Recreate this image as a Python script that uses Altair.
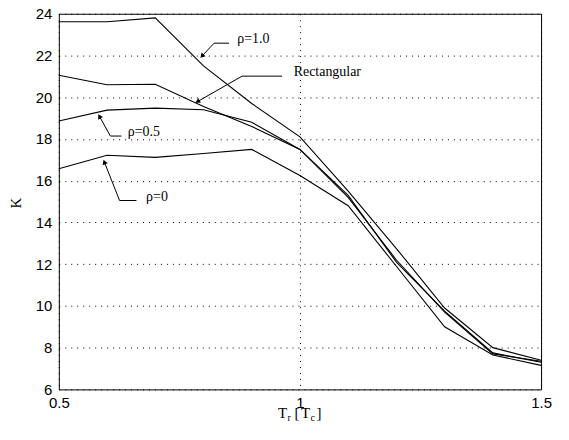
import math
import altair as alt
import pandas as pd

# ---- data ----
x_vals = [0.5, 0.6, 0.7, 0.8, 0.9, 1.0, 1.1, 1.2, 1.3, 1.4, 1.5]
k_rho10 = [23.62, 23.62, 23.80, 21.50, 19.70, 18.10, 15.50, 12.75, 9.90, 8.00, 7.40]
k_rect = [21.05, 20.60, 20.62, 19.55, 18.60, 17.50, 15.20, 12.20, 9.70, 7.70, 7.35]
k_rho05 = [18.86, 19.38, 19.48, 19.40, 18.80, 17.50, 15.30, 12.10, 9.75, 7.75, 7.30]
k_rho0 = [16.57, 17.22, 17.12, 17.30, 17.50, 16.25, 14.80, 11.90, 9.00, 7.65, 7.15]
series_names = ["rho=1.0", "Rectangular", "rho=0.5", "rho=0"]

x_ticks = [0.5, 1.0, 1.5]
y_ticks = [6, 8, 10, 12, 14, 16, 18, 20, 22, 24]

# annotations (arrow tip, elbow, end of horizontal leader, label)
ann_labels = ["ρ=1.0", "Rectangular", "ρ=0.5", "ρ=0"]
tip_x = [0.798, 0.789, 0.585, 0.595]
tip_y = [22.00, 19.81, 19.05, 16.86]
elbow_x = [0.822, 0.880, 0.607, 0.626]
elbow_y = [22.59, 21.01, 18.14, 15.05]
end_x = [0.853, 0.963, 0.630, 0.661]
text_x = [0.870, 0.987, 0.643, 0.681]

W, H = 484, 377
X_DOM = [0.5, 1.5]
Y_DOM = [6, 24]

rows = []
for name, vals in zip(series_names, [k_rho10, k_rect, k_rho05, k_rho0]):
    for xv, kv in zip(x_vals, vals):
        rows.append({"series": name, "x": xv, "k": kv})
df = pd.DataFrame(rows)

lead_rows = []
head_rows = []
text_rows = []
for i, lab in enumerate(ann_labels):
    lead_rows.append({"lab": lab, "o": 0, "x": tip_x[i], "k": tip_y[i]})
    lead_rows.append({"lab": lab, "o": 1, "x": elbow_x[i], "k": elbow_y[i]})
    lead_rows.append({"lab": lab, "o": 2, "x": end_x[i], "k": elbow_y[i]})
    dx = (tip_x[i] - elbow_x[i]) * W / (X_DOM[1] - X_DOM[0])
    dy = -(tip_y[i] - elbow_y[i]) * H / (Y_DOM[1] - Y_DOM[0])
    ang = math.degrees(math.atan2(dx, -dy)) % 360
    head_rows.append({"lab": lab, "x": tip_x[i], "k": tip_y[i], "ang": ang})
    text_rows.append({"lab": lab, "x": text_x[i], "k": elbow_y[i]})
lead_df = pd.DataFrame(lead_rows)
head_df = pd.DataFrame(head_rows)
text_df = pd.DataFrame(text_rows)

xs = alt.Scale(domain=X_DOM, nice=False)
ys = alt.Scale(domain=Y_DOM, nice=False, zero=False)

x_axis = alt.Axis(values=x_ticks, format="~g", title=None, grid=True, ticks=False,
                  domain=False, labelFont="Liberation Sans", labelFontSize=15,
                  labelColor="black", labelPadding=6, gridColor="black",
                  gridDash=[1, 5], gridWidth=1, gridOpacity=1, labelFlush=False)
y_axis = alt.Axis(values=y_ticks, title=None, grid=True, ticks=False, domain=False,
                  labelFont="Liberation Sans", labelFontSize=15, labelColor="black",
                  labelPadding=7, gridColor="black", gridDash=[1, 5], gridWidth=1,
                  gridOpacity=1, labelFlush=False)

lines = alt.Chart(df).mark_line(color="black", strokeWidth=1.1).encode(
    x=alt.X("x:Q", scale=xs, axis=x_axis),
    y=alt.Y("k:Q", scale=ys, axis=y_axis),
    detail="series:N",
)

leaders = alt.Chart(lead_df).mark_line(color="black", strokeWidth=1).encode(
    x=alt.X("x:Q", scale=xs),
    y=alt.Y("k:Q", scale=ys),
    detail="lab:N",
    order="o:Q",
)

heads = alt.Chart(head_df).mark_point(shape="triangle", filled=True, color="black",
                                      size=30, opacity=1).encode(
    x=alt.X("x:Q", scale=xs),
    y=alt.Y("k:Q", scale=ys),
    angle=alt.Angle("ang:Q", scale=None),
)

labels = alt.Chart(text_df).mark_text(font="Liberation Serif", fontSize=14,
                                      align="left", baseline="alphabetic",
                                      color="black").encode(
    x=alt.X("x:Q", scale=xs),
    y=alt.Y("k:Q", scale=ys),
    text="lab:N",
)

# x axis title built from text pieces (subscripts)
title_text = ["T", "r", "[", "T", "c", "]"]
title_px = [220.0, 229.5, 236.5, 243.0, 252.5, 258.5]
title_py = [406.0, 409.0, 406.0, 406.0, 409.0, 406.0]
title_size = [15, 10, 15, 15, 10, 15]
xtitle_layers = []
for t, px, py, s in zip(title_text, title_px, title_py, title_size):
    xtitle_layers.append(
        alt.Chart(pd.DataFrame({"t": [t]})).mark_text(
            font="Liberation Serif", fontSize=s, align="left",
            baseline="alphabetic", color="black").encode(
            x=alt.value(px), y=alt.value(py), text="t:N")
    )

ytitle = alt.Chart(pd.DataFrame({"t": ["K"]})).mark_text(
    font="Liberation Serif", fontSize=15, angle=270, align="center",
    baseline="middle", color="black").encode(
    x=alt.value(-43), y=alt.value(190), text="t:N")

chart = alt.layer(lines, leaders, heads, labels, ytitle, *xtitle_layers).properties(
    width=W, height=H,
    autosize=alt.AutoSizeParams(type="none"),
    padding={"left": 51, "top": 5, "right": 20, "bottom": 45},
    background="white",
).configure_view(stroke="black", strokeWidth=1)

chart.save("out.html", embed_options={"renderer": "svg", "actions": False})
